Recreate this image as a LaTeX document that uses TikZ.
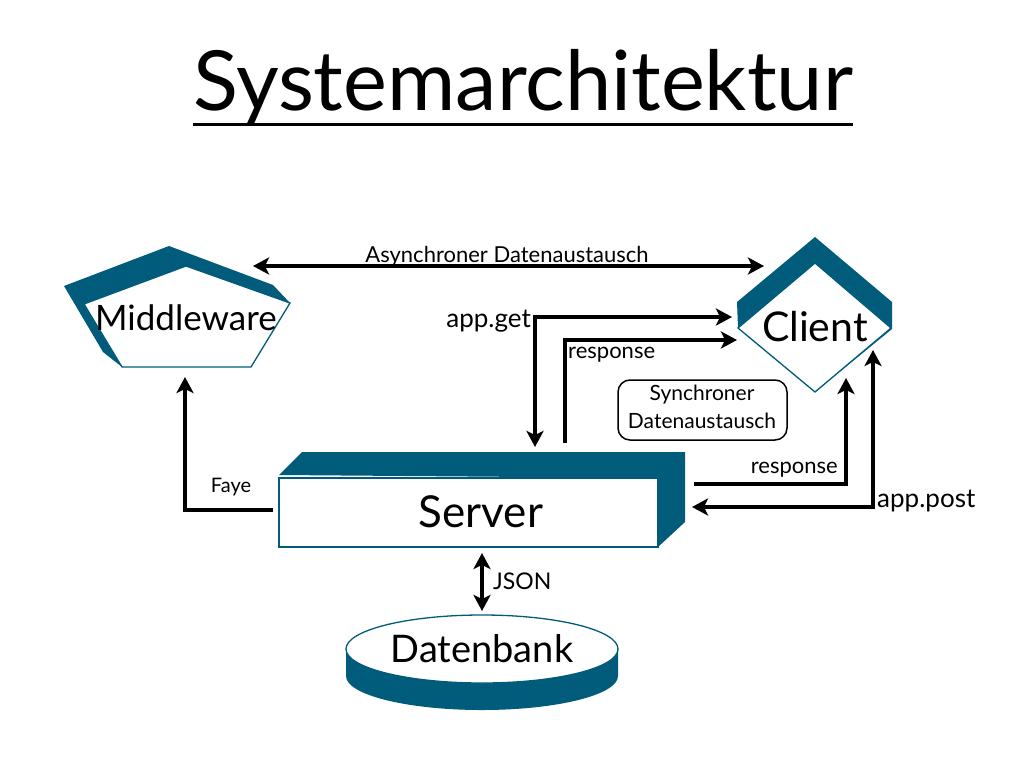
\documentclass[tikz,border=0pt]{standalone}
\usepackage{fontspec}
\setmainfont{Lato}
\usetikzlibrary{arrows.meta}
\definecolor{boxblue}{RGB}{1,91,122}
\newcommand{\fs}[1]{\fontsize{#1}{#1}\selectfont}
\begin{document}
\begin{tikzpicture}[x=1pt,y=-1pt,
  tip/.tip={Stealth[length=16pt,width=17pt,inset=4pt]},
  arr/.style={line width=4.8pt,-tip},
  dbl/.style={line width=4.8pt,tip-tip},
  dark/.style={fill=boxblue},
  face/.style={draw=boxblue,line width=1.3pt,fill=white},
  big/.style={inner sep=0pt,font=\fs{36}},
  lbl/.style={inner sep=0pt,font=\fs{21}},
  syncbox/.style={draw,line width=1.5pt,rounded corners=12pt}]
\useasboundingbox (0,0) rectangle (1024,768);
% title
\node[inner sep=0pt,anchor=base,font=\fs{83}] (title) at (523,110) {Systemarchitektur};
\draw[line width=3pt] (193,124) coordinate (ulL) -- (853,124) coordinate (ulR);
% Middleware
\fill[dark] (64,286) -- (169,246) -- (273,285) -- (290,303) -- (122,367) -- (103,352) -- cycle;
\draw[face] (186,266) -- (290,303) -- (251,367) -- (122,367) -- (84,304) -- cycle;
\node[big,font=\fs{35}] (mw) at (186,318) {Middleware};
% Client
\fill[dark] (737,302) -- (815,237) -- (892,302) -- (892,329) -- (815,392) -- (738,328) -- cycle;
\draw[face] (815,263) -- (891,328) -- (815,392) -- (738,328) -- cycle;
\node[big,font=\fs{41}] (cl) at (815,327) {Client};
% Server
\fill[dark] (279,475) -- (302,452) -- (685,452) -- (685,522) -- (658,547) -- (658,478) -- cycle;
\draw[face] (279,478) rectangle (658,547);
\node[big,font=\fs{44}] (srv) at (481,512) {Server};
% Datenbank
\fill[dark] (346,649) -- (346,676) arc[start angle=180,end angle=360,x radius=136,y radius=-34] -- (618,649) -- cycle;
\draw[face] (482,649) ellipse [x radius=136,y radius=34];
\node[big,font=\fs{38}] (db) at (482,649) {Datenbank};
% coordinates of connector ends
\coordinate (asL) at (253,266);
\coordinate (asR) at (764,266);
\coordinate (getS) at (535,447);
\coordinate (getC) at (732,317);
\coordinate (resS) at (565,443);
\coordinate (resC) at (737,340);
\coordinate (res2S) at (694,484);
\coordinate (res2C) at (846,378);
\coordinate (postS) at (692,507);
\coordinate (postC) at (873,350);
\coordinate (fayeS) at (273,510);
\coordinate (fayeM) at (185,377);
\coordinate (jsS) at (482,553);
\coordinate (jsD) at (482,611);
% connectors
\draw[line width=3.5pt,tip-tip] (asL) -- (asR);
\node[lbl,anchor=base,font=\fs{22}] (async) at (507,262) {Asynchroner Datenaustausch};
\draw[dbl] (getS) |- (getC);
\node[lbl,anchor=base east,font=\fs{26}] (getl) at (531,327) {app.get};
\draw[arr] (resS) |- (resC);
\node[lbl,anchor=base west,font=\fs{22}] (resl) at (568,358) {response};
\draw[arr] (res2S) -| (res2C);
\node[lbl,anchor=base east,font=\fs{22}] (res2l) at (838,473) {response};
\draw[dbl] (postS) -| (postC);
\node[lbl,anchor=base west,font=\fs{26}] (postl) at (877,507) {app.post};
\draw[arr] (fayeS) -| (fayeM);
\node[lbl,anchor=base,font=\fs{20}] (fayel) at (231,492) {Faye};
\draw[dbl] (jsS) -- (jsD);
\node[lbl,anchor=base west,font=\fs{23}] (jsl) at (493,589) {JSON};
% sync box
\draw[syncbox] (618,380) rectangle (787,440);
\node[lbl,anchor=base] (sync1) at (702,400) {Synchroner};
\node[lbl,anchor=base] (sync2) at (702,428) {Datenaustausch};
\end{tikzpicture}
\end{document}
